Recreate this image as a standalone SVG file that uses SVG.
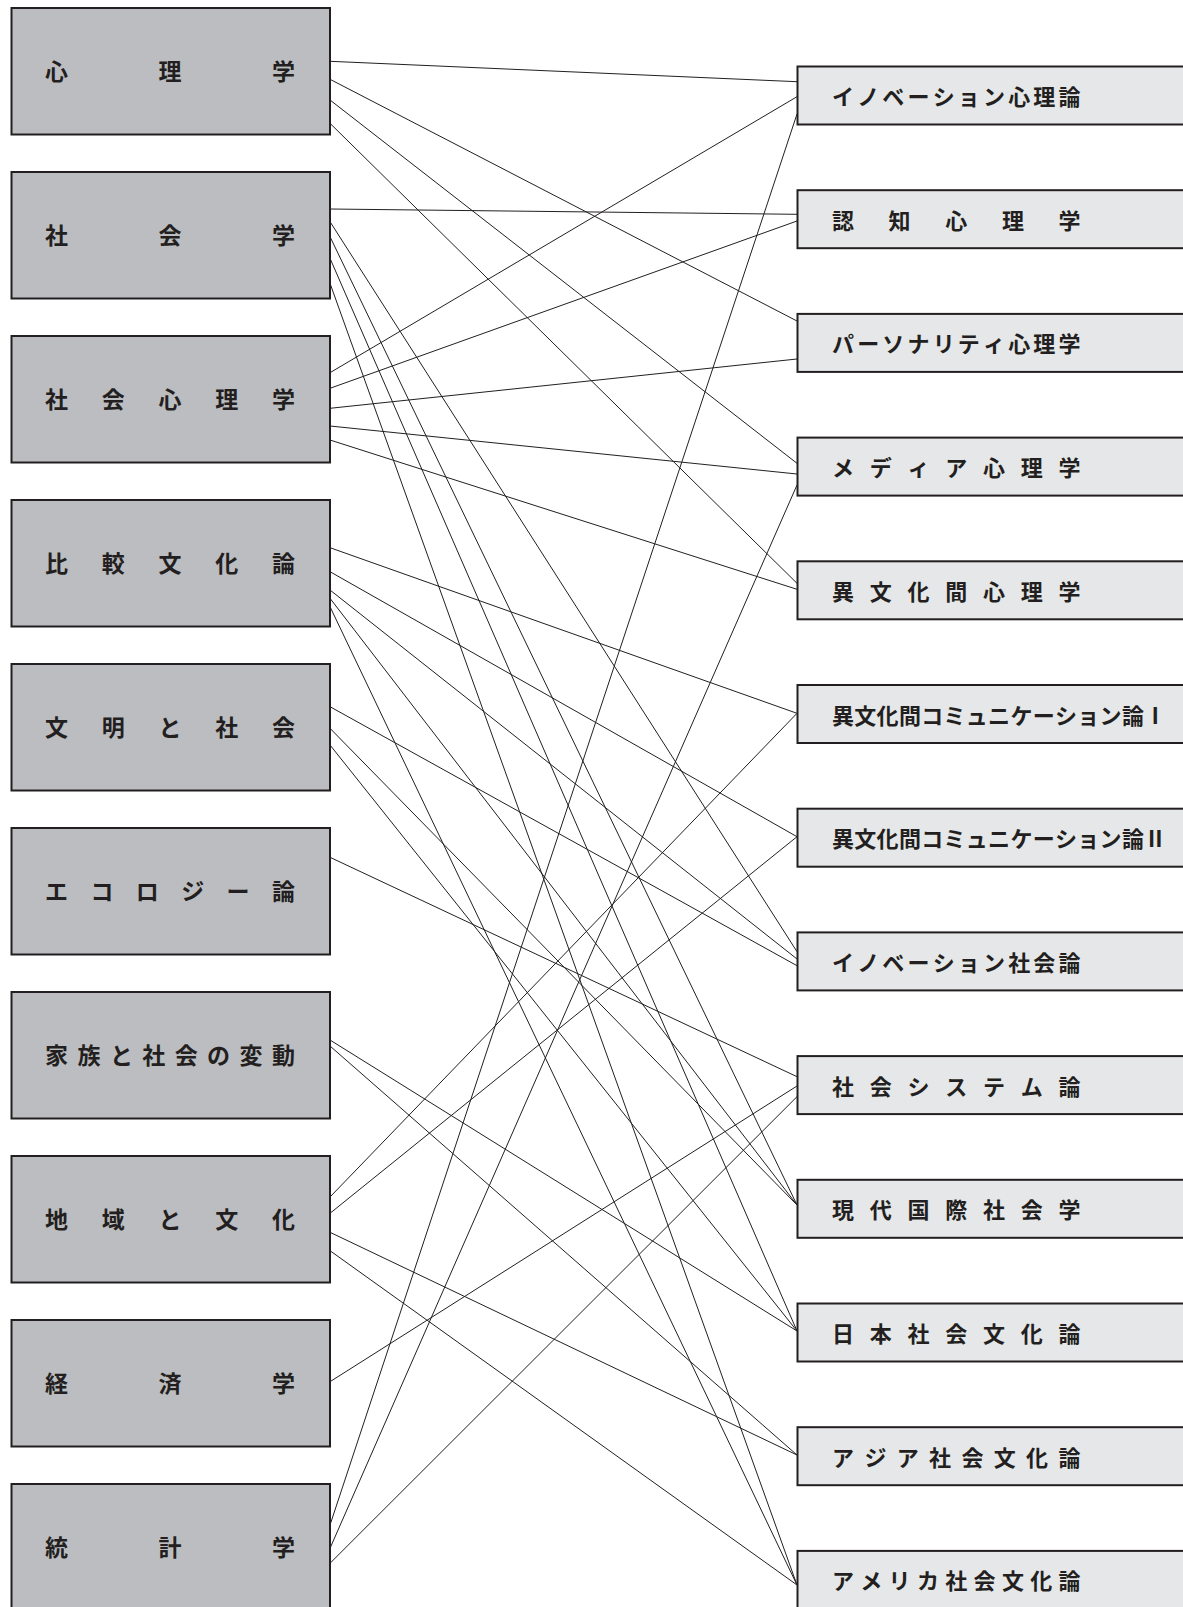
<svg xmlns="http://www.w3.org/2000/svg" width="1183" height="1607" viewBox="0 0 1183 1607">
<style>
.lb{fill:#bcbdc0;stroke:#231f20;stroke-width:2}
.rb{fill:#e6e7e8;stroke:#231f20;stroke-width:2}
.t{font-family:"Noto Sans CJK JP","Noto Sans CJK SC",sans-serif;font-weight:700;fill:#231f20}
.lt{font-size:23px}
.rt{font-size:22px}
#connectors line{stroke:#231f20;stroke-width:1}
</style>
<rect width="1183" height="1607" fill="#ffffff"/>
<g id="connectors">
<line x1="330" y1="61.3" x2="797" y2="81.7"/>
<line x1="330" y1="79.3" x2="797" y2="321"/>
<line x1="330" y1="100" x2="797" y2="463.3"/>
<line x1="330" y1="123.3" x2="797" y2="583.3"/>
<line x1="330" y1="209" x2="797" y2="214.3"/>
<line x1="330" y1="221.7" x2="797" y2="951.7"/>
<line x1="330" y1="236.7" x2="797" y2="1205"/>
<line x1="330" y1="258.3" x2="797" y2="1331"/>
<line x1="330" y1="283.3" x2="797" y2="1585"/>
<line x1="330" y1="372.7" x2="797" y2="96.7"/>
<line x1="330" y1="388.3" x2="797" y2="221"/>
<line x1="330" y1="408.3" x2="797" y2="359"/>
<line x1="330" y1="426" x2="797" y2="474"/>
<line x1="330" y1="440" x2="797" y2="589.3"/>
<line x1="330" y1="547.7" x2="797" y2="713.3"/>
<line x1="330" y1="571.7" x2="797" y2="836.7"/>
<line x1="330" y1="590" x2="797" y2="959"/>
<line x1="330" y1="598.3" x2="797" y2="1205"/>
<line x1="330" y1="606.7" x2="797" y2="1585"/>
<line x1="330" y1="706.7" x2="797" y2="965.7"/>
<line x1="330" y1="728.3" x2="797" y2="1205"/>
<line x1="330" y1="745" x2="797" y2="1331"/>
<line x1="330" y1="857.3" x2="797" y2="1076.7"/>
<line x1="330" y1="1040" x2="797" y2="1331"/>
<line x1="330" y1="1046" x2="797" y2="1455"/>
<line x1="330" y1="1197" x2="797" y2="713.3"/>
<line x1="330" y1="1213.3" x2="797" y2="836.7"/>
<line x1="330" y1="1232.3" x2="797" y2="1455"/>
<line x1="330" y1="1250.7" x2="797" y2="1585"/>
<line x1="330" y1="1381.7" x2="797" y2="1086"/>
<line x1="330" y1="1525" x2="797" y2="114"/>
<line x1="330" y1="1548.3" x2="797" y2="485"/>
<line x1="330" y1="1563.3" x2="797" y2="1096.7"/>
</g>
<g id="L0"><rect class="lb" x="11.5" y="8" width="318.5" height="126.5"/><text class="t lt" x="45 158.5 272" y="79.5">心理学</text></g>
<g id="L1"><rect class="lb" x="11.5" y="172" width="318.5" height="126.5"/><text class="t lt" x="45 158.5 272" y="243.5">社会学</text></g>
<g id="L2"><rect class="lb" x="11.5" y="336" width="318.5" height="126.5"/><text class="t lt" x="45 101.75 158.5 215.25 272" y="407.5">社会心理学</text></g>
<g id="L3"><rect class="lb" x="11.5" y="500" width="318.5" height="126.5"/><text class="t lt" x="45 101.75 158.5 215.25 272" y="571.5">比較文化論</text></g>
<g id="L4"><rect class="lb" x="11.5" y="664" width="318.5" height="126.5"/><text class="t lt" x="45 101.75 158.5 215.25 272" y="735.5">文明と社会</text></g>
<g id="L5"><rect class="lb" x="11.5" y="828" width="318.5" height="126.5"/><text class="t lt" x="45 90.4 135.8 181.2 226.6 272" y="899.5">エコロジー論</text></g>
<g id="L6"><rect class="lb" x="11.5" y="992" width="318.5" height="126.5"/><text class="t lt" x="45 77.4 109.9 142.3 174.7 207.1 239.6 272" y="1063.5">家族と社会の変動</text></g>
<g id="L7"><rect class="lb" x="11.5" y="1156" width="318.5" height="126.5"/><text class="t lt" x="45 101.75 158.5 215.25 272" y="1227.5">地域と文化</text></g>
<g id="L8"><rect class="lb" x="11.5" y="1320" width="318.5" height="126.5"/><text class="t lt" x="45 158.5 272" y="1391.5">経済学</text></g>
<g id="L9"><rect class="lb" x="11.5" y="1484" width="318.5" height="126.5"/><text class="t lt" x="45 158.5 272" y="1555.5">統計学</text></g>
<g id="R0"><rect class="rb" x="797.5" y="66.5" width="400" height="58"/><text class="t rt" x="832 857.2 882.3 907.5 932.7 957.8 983 1008.2 1033.3 1058.5" y="105">イノベーション心理論</text></g>
<g id="R1"><rect class="rb" x="797.5" y="190.2" width="400" height="58"/><text class="t rt" x="832 888.6 945.25 1001.9 1058.5" y="228.7">認知心理学</text></g>
<g id="R2"><rect class="rb" x="797.5" y="313.9" width="400" height="58"/><text class="t rt" x="832 857.2 882.3 907.5 932.7 957.8 983 1008.2 1033.3 1058.5" y="352.4">パーソナリティ心理学</text></g>
<g id="R3"><rect class="rb" x="797.5" y="437.6" width="400" height="58"/><text class="t rt" x="832 869.75 907.5 945.25 983 1020.75 1058.5" y="476.1">メディア心理学</text></g>
<g id="R4"><rect class="rb" x="797.5" y="561.3" width="400" height="58"/><text class="t rt" x="832 869.75 907.5 945.25 983 1020.75 1058.5" y="599.8">異文化間心理学</text></g>
<g id="R5"><rect class="rb" x="797.5" y="685" width="400" height="58"/><text class="t rt" x="832 854.3 876.6 898.9 921.2 943.5 965.8 988.1 1010.4 1032.7 1055 1077.3 1099.6 1121.9 1144.2" y="723.5">異文化間コミュニケーション論Ⅰ</text></g>
<g id="R6"><rect class="rb" x="797.5" y="808.7" width="400" height="58"/><text class="t rt" x="832 854.3 876.6 898.9 921.2 943.5 965.8 988.1 1010.4 1032.7 1055 1077.3 1099.6 1121.9 1144.2" y="847.2">異文化間コミュニケーション論Ⅱ</text></g>
<g id="R7"><rect class="rb" x="797.5" y="932.4" width="400" height="58"/><text class="t rt" x="832 857.2 882.3 907.5 932.7 957.8 983 1008.2 1033.3 1058.5" y="970.9">イノベーション社会論</text></g>
<g id="R8"><rect class="rb" x="797.5" y="1056.1" width="400" height="58"/><text class="t rt" x="832 869.75 907.5 945.25 983 1020.75 1058.5" y="1094.6">社会システム論</text></g>
<g id="R9"><rect class="rb" x="797.5" y="1179.8" width="400" height="58"/><text class="t rt" x="832 869.75 907.5 945.25 983 1020.75 1058.5" y="1218.3">現代国際社会学</text></g>
<g id="R10"><rect class="rb" x="797.5" y="1303.5" width="400" height="58"/><text class="t rt" x="832 869.75 907.5 945.25 983 1020.75 1058.5" y="1342">日本社会文化論</text></g>
<g id="R11"><rect class="rb" x="797.5" y="1427.2" width="400" height="58"/><text class="t rt" x="832 864.4 896.7 929.1 961.4 993.8 1026.1 1058.5" y="1465.7">アジア社会文化論</text></g>
<g id="R12"><rect class="rb" x="797.5" y="1550.9" width="400" height="58"/><text class="t rt" x="832 860.3 888.6 916.9 945.25 973.6 1001.9 1030.2 1058.5" y="1589.4">アメリカ社会文化論</text></g>
</svg>
